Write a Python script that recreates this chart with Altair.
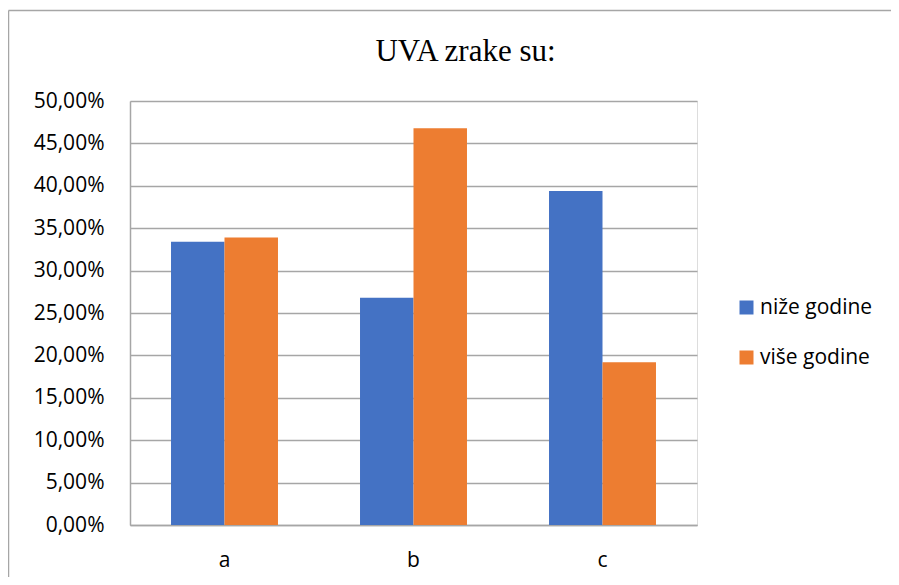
import altair as alt
import pandas as pd

categories = ["a", "b", "c"]
series_names = ["niže godine", "više godine"]
nize = [0.334, 0.268, 0.394]
vise = [0.339, 0.468, 0.192]
colors = ["#4472C4", "#ED7D31"]
y_ticks = [0.0, 0.05, 0.10, 0.15, 0.20, 0.25, 0.30, 0.35, 0.40, 0.45, 0.50]

rows = []
for i, c in enumerate(categories):
    rows.append({"kat": c, "serija": series_names[0], "vrijednost": nize[i]})
    rows.append({"kat": c, "serija": series_names[1], "vrijednost": vise[i]})
df = pd.DataFrame(rows)

LABEL_FONT = "Open Sans"
LABEL_SIZE = 21
GRID = "#A6A6A6"

bars = alt.Chart(df).mark_bar().encode(
    x=alt.X(
        "kat:N",
        title=None,
        sort=categories,
        scale=alt.Scale(paddingInner=0.434, paddingOuter=0.217),
        axis=alt.Axis(labelAngle=0, ticks=False, domainColor=GRID, domainWidth=1.5,
                      labelFontSize=LABEL_SIZE, labelFont=LABEL_FONT, labelColor="#000000",
                      labelPadding=24, grid=False),
    ),
    xOffset=alt.XOffset("serija:N", sort=series_names),
    y=alt.Y(
        "vrijednost:Q",
        title=None,
        scale=alt.Scale(domain=[0, 0.5], nice=False),
        axis=alt.Axis(values=y_ticks, ticks=False, domain=True, domainColor=GRID, domainWidth=1.5,
                      gridColor=GRID, gridWidth=1.5,
                      labelExpr="replace(format(datum.value, '.2%'), '.', ',')",
                      labelFontSize=LABEL_SIZE, labelFont=LABEL_FONT, labelColor="#000000",
                      labelPadding=26),
    ),
    color=alt.Color(
        "serija:N",
        sort=series_names,
        scale=alt.Scale(domain=series_names, range=colors),
        legend=alt.Legend(title=None, orient="none", legendX=606, legendY=196,
                          symbolType="square", symbolSize=196, symbolStrokeWidth=0,
                          labelFontSize=LABEL_SIZE, labelFont=LABEL_FONT, labelColor="#000000",
                          rowPadding=28, labelOffset=3),
    ),
)

frame_df = pd.DataFrame({"d": [0]})
top_border = alt.Chart(frame_df).mark_rule(color=GRID, strokeWidth=1.5).encode(
    x=alt.value(-121.5), x2=alt.value(800), y=alt.value(-90.5)
)
left_border = alt.Chart(frame_df).mark_rule(color=GRID, strokeWidth=1.5).encode(
    x=alt.value(-121.5), y=alt.value(-90.5), y2=alt.value(600)
)

chart = alt.layer(bars, top_border, left_border).properties(
    width=567,
    height=424,
    autosize=alt.AutoSizeParams(type="none"),
    padding={"left": 122, "top": 93, "right": 194, "bottom": 52},
    title=alt.TitleParams("UVA zrake su:", font="Liberation Serif", fontSize=31,
                          fontWeight="normal", color="#000000", anchor="middle",
                          frame="group", dx=52, offset=0, dy=58),
).configure_view(stroke=None).configure(background="white")

chart.save("out.html", embed_options={"renderer": "svg", "actions": False})
